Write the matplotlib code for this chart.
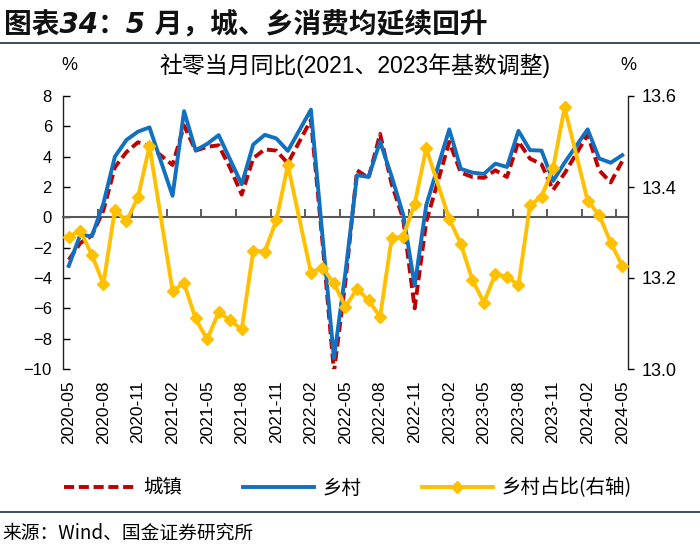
import numpy as np
import pandas as pd
import matplotlib
matplotlib.use("Agg")
import matplotlib.pyplot as plt
from matplotlib.lines import Line2D

plt.rcParams['font.family'] = ['Liberation Sans', 'Noto Sans CJK SC', 'DejaVu Sans']
CJK = ['Noto Sans CJK SC', 'DejaVu Sans']

# ---------------- data ----------------
months = [str(p) for p in pd.period_range('2020-05', '2024-05', freq='M')]
tick_labels = ['2020-05', '2020-08', '2020-11', '2021-02', '2021-05', '2021-08',
               '2021-11', '2022-02', '2022-05', '2022-08', '2022-11', '2023-02',
               '2023-05', '2023-08', '2023-11', '2024-02', '2024-05']
nan = np.nan
urban = [-2.8, -1.7, -1.2, 0.45, 3.3, 4.3, 4.95, 4.7, nan, 3.45,
         6.05, 4.4, 4.65, 4.75, 3.25, 1.5, 3.9, 4.48, 4.4, 3.56,
         nan, 6.42, -1.6, -10.2, -4.2, 3.1, 2.6, 5.5, 2.2, -0.1,
         -6.0, -0.3, nan, 4.97, 2.95, 2.66, 2.6, 3.1, 2.66, 5.0,
         3.87, 3.5, 1.8, 2.9, nan, 5.45, 3.1, 2.3, 3.7]
rural = [-3.2, -1.15, -1.25, 0.9, 4.0, 5.1, 5.65, 5.93, nan, 1.42,
         7.0, 4.42, 4.84, 5.42, 3.8, 2.18, 4.8, 5.44, 5.2, 4.38,
         nan, 7.1, -1.2, -9.3, -3.6, 2.78, 2.66, 5.0, 2.7, 0.2,
         -4.5, 0.8, nan, 5.8, 3.2, 2.95, 2.86, 3.54, 3.32, 5.7,
         4.43, 4.4, 2.4, 3.6, nan, 5.8, 3.88, 3.6, 4.1]
rural_share = [13.291, 13.304, 13.251, 13.187, 13.350, 13.325, 13.377, 13.490, nan, 13.172,
               13.188, 13.111, 13.065, 13.125, 13.107, 13.087, 13.260, 13.258, 13.327, 13.448,
               nan, 13.212, 13.223, 13.188, 13.137, 13.176, 13.151, 13.115, 13.287, 13.291,
               13.363, 13.485, nan, 13.330, 13.275, 13.196, 13.146, 13.209, 13.202, 13.185,
               13.360, 13.379, 13.441, 13.575, nan, 13.370, 13.338, 13.278, 13.227]

C_RED = '#C00000'
C_BLUE = '#1170C0'
C_YEL = '#FFC000'
DASH = (0, (2.6, 1.2))

x = np.arange(len(months))

def valid(vals):
    v = np.array(vals, dtype=float)
    m = ~np.isnan(v)
    return x[m], v[m]

fig = plt.figure(figsize=(7, 5.5), dpi=100)
ax = fig.add_axes([63/700, 1-369/550, (628-63)/700, (369-96)/550])
ax2 = ax.twinx()

xu, yu = valid(urban)
xr, yr = valid(rural)
xs, ys = valid(rural_share)
ax.plot(xu, yu, color=C_RED, lw=2.8, ls=DASH, zorder=3)
ax.plot(xr, yr, color=C_BLUE, lw=2.8, zorder=4)
ax2.plot(xs, ys, color=C_YEL, lw=2.8, marker='D', ms=6, zorder=5)

ax.set_xlim(-0.5, len(months) - 0.5)
ax.set_ylim(-10, 8)
ax.set_yticks(np.arange(-10, 9, 2))
ax2.set_ylim(13.0, 13.6)
ax2.set_yticks([13.0, 13.2, 13.4, 13.6])
ax2.set_yticklabels(['13.0', '13.2', '13.4', '13.6'])

for a in (ax, ax2):
    a.spines['top'].set_visible(False)
ax.spines['right'].set_visible(False)
ax2.spines['left'].set_visible(False)
ax2.spines['bottom'].set_visible(False)
ax.spines['left'].set_color('#222222')
ax2.spines['right'].set_color('#222222')
ax.spines['left'].set_linewidth(1.0)
ax2.spines['right'].set_linewidth(1.0)

# zero-line x axis with ticks between categories
ax.spines['bottom'].set_position(('data', 0))
ax.spines['bottom'].set_color('#595959')
ax.spines['bottom'].set_linewidth(1.5)
ax.set_xticks(np.arange(2.5, len(months) - 0.5, 3))
ax.tick_params(axis='x', direction='in', length=6, width=1.2, color='#404040',
               labelbottom=False)

sec = ax.secondary_xaxis('bottom')
sec.spines['bottom'].set_visible(False)
label_pos = [months.index(t) for t in tick_labels]
sec.set_xticks(label_pos)
sec.set_xticklabels(tick_labels, rotation=90, fontsize=12.5)
sec.tick_params(axis='x', length=0, pad=8)

ax.tick_params(axis='y', direction='in', length=5, width=1.0, labelsize=12, pad=8)
ax2.tick_params(axis='y', direction='out', length=4, width=1.0, labelsize=13, pad=6)

# texts
fig.text(0.006, 1-25/550, '图表34：5 月，城、乡消费均延续回升', fontsize=20, fontweight='bold',
         style='italic', family=['DejaVu Sans', 'Noto Sans CJK SC'], va='center',
         ha='left', color='#111111')
fig.add_artist(Line2D([0, 1], [1-43/550, 1-43/550], color='#3B4D63', lw=1.4,
                      transform=fig.transFigure))
fig.text(355/700, 1-66/550, '社零当月同比(2021、2023年基数调整)', fontsize=16.5,
         family=['Liberation Sans', 'Noto Sans CJK SC'], ha='center', va='center')
fig.text(69/700, 1-66/550, '%', fontsize=13, ha='center', va='center')
fig.text(628/700, 1-66/550, '%', fontsize=13, ha='center', va='center')

handles = [Line2D([], [], color=C_RED, lw=2.8, ls=DASH),
           Line2D([], [], color=C_BLUE, lw=2.8),
           Line2D([], [], color=C_YEL, lw=2.8, marker='D', ms=6)]
fig.legend(handles, ['城镇', '乡村', '乡村占比(右轴)'], loc='center left',
           bbox_to_anchor=(46/700, 1-488/550), ncol=3, frameon=False,
           handlelength=3.7, columnspacing=3.1, handletextpad=0.4,
           prop={'family': CJK, 'size': 14})

fig.add_artist(Line2D([0, 1], [1-512/550, 1-512/550], color='#3B4D63', lw=1.4,
                      transform=fig.transFigure))
fig.text(0.004, 1-533/550, '来源：Wind、国金证券研究所', fontsize=13.5, family=CJK,
         ha='left', va='center')

fig.savefig('out.png', dpi=100)
